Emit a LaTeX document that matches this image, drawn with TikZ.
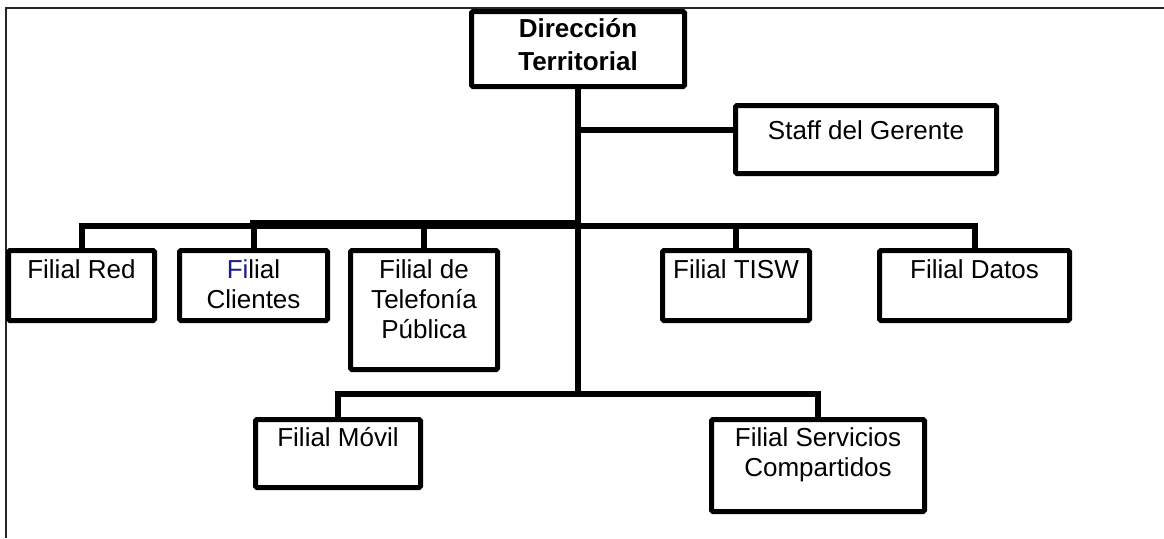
\documentclass[tikz,border=0pt]{standalone}
\usepackage{fontspec}
\setmainfont{Liberation Sans}
\usetikzlibrary{calc}
\definecolor{fiblue}{RGB}{28,28,140}
\newcommand{\topstrut}{\rule{0pt}{24pt}}
\pgfdeclarelayer{wires}
\pgfsetlayers{wires,main}
\begin{document}
\begin{tikzpicture}[x=1pt,y=-1pt,
  unit/.style={draw, line width=5pt, rounded corners=1.5pt, fill=white, inner sep=0pt},
  caption/.style={anchor=north, inner sep=0pt, align=center, font=\fontsize{26}{30}\selectfont},
  link/.style={line width=6pt},
  frame/.style={line width=1.6pt, draw=black!85}]
\useasboundingbox (0,0) rectangle (1164,538);

% page frame (top and left rules)
\draw[frame] (6,538) -- (6,8) -- (1164,8);

% boxes
\node[unit, minimum width=213pt, minimum height=75pt]  (dir)   at (578,49) {};
\node[unit, minimum width=261pt, minimum height=68pt]  (staff) at (866,139.5) {};
\node[unit, minimum width=146pt, minimum height=70pt]  (red)   at (81.5,285.5) {};
\node[unit, minimum width=148pt, minimum height=70pt]  (cli)   at (253.5,285.5) {};
\node[unit, minimum width=147pt, minimum height=119pt] (tel)   at (424,310) {};
\node[unit, minimum width=147pt, minimum height=70pt]  (tisw)  at (736,285.5) {};
\node[unit, minimum width=190pt, minimum height=70pt]  (datos) at (974.5,285.5) {};
\node[unit, minimum width=165pt, minimum height=68pt]  (movil) at (338,453.5) {};
\node[unit, minimum width=213pt, minimum height=92pt]  (serv)  at (818,465.5) {};

% box captions
\node[caption, font=\bfseries\fontsize{26}{33}\selectfont] (dir-t) at ($(dir.north)+(0,4.5)$) {\topstrut Dirección\\Territorial};
\node[caption] (staff-t) at ($(staff.north)+(0,12.5)$) {\topstrut Staff del Gerente};
\node[caption] (red-t)   at ($(red.north)+(0,6)$)   {\topstrut Filial Red};
\node[caption] (cli-t)   at ($(cli.north)+(0,6)$)   {\topstrut{\color{fiblue}Fi}lial\\Clientes};
\node[caption] (tel-t)   at ($(tel.north)+(0,6)$)   {\topstrut Filial de\\Telefonía\\Pública};
\node[caption] (tisw-t)  at ($(tisw.north)+(0,6)$)  {\topstrut Filial TISW};
\node[caption] (datos-t) at ($(datos.north)+(0,6)$) {\topstrut Filial Datos};
\node[caption] (movil-t) at ($(movil.north)+(0,5)$) {\topstrut Filial Móvil};
\node[caption] (serv-t)  at ($(serv.north)+(0,5)$)  {\topstrut Filial Servicios\\Compartidos};

% junction points on the trunk below the head box
\coordinate (staffjoin) at ($(dir.south)+(0,41)$);
\coordinate (bus)       at ($(dir.south)+(0,136.5)$);
\coordinate (low)       at ($(dir.south)+(0,304.5)$);
\coordinate (busleft)   at ($(cli.north |- bus)+(-3.5,-1.3)$);
\coordinate (busmid)    at ($(bus)+(0,-1.3)$);

% connectors
\begin{pgfonlayer}{wires}
\draw[link] (dir.south) -- (low);
\draw[link] (staffjoin) -- (staffjoin -| staff.west);
\draw[link] (red.north) |- (bus) -| (datos.north);
\draw[link] (cli.north) -- (cli.north |- bus);
\draw[link] (tel.north) -- (tel.north |- bus);
\draw[link] (tisw.north) -- (tisw.north |- bus);
\draw[link, line width=8pt] (busleft) -- (busmid);
\draw[link] (movil.north) |- (low) -| (serv.north);
\end{pgfonlayer}
\end{tikzpicture}
\end{document}
